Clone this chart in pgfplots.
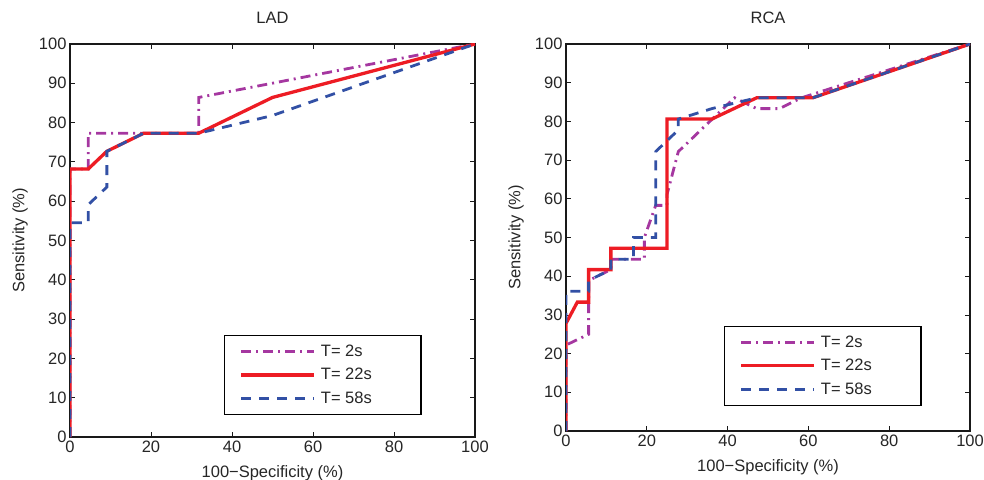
\documentclass[border=0pt]{standalone}
\usepackage{fontspec}
\setmainfont{Liberation Sans}
\usepackage{pgfplots}
\pgfplotsset{compat=1.18}
\definecolor{cpurple}{RGB}{165,55,160}
\definecolor{cred}{RGB}{237,28,36}
\definecolor{cblue}{RGB}{50,80,165}
\newcommand{\fs}{\fontsize{16.5}{19}\selectfont}
\pgfplotsset{
  myaxis/.style={
    scale only axis, xmin=0, xmax=100, ymin=0, ymax=100,
    xtick={0,20,...,100}, ytick={0,10,...,100},
    tick align=inside, major tick length=5pt,
    axis line style={line width=1.1pt, black!90},
    every tick/.style={black!90, line width=0.8pt},
    tick label style={font=\fs, text=black!85},
    /pgf/number format/assume math mode=true,
    xlabel={100−Specificity (\%)}, ylabel={Sensitivity (\%)},
    every axis x label/.style={at={([yshift=-36pt]rel axis cs:0.5,0)}, anchor=center, font=\fs, text=black!85},
    every axis y label/.style={at={([xshift=-50pt]rel axis cs:0,0.5)}, anchor=center, rotate=90, font=\fs, text=black!85},
    every axis title/.style={at={([yshift=26pt]rel axis cs:0.5,1)}, anchor=center, font=\fs, text=black!85},
    legend cell align=left,
    legend style={draw=black, line width=1.2pt, fill=white, font=\fs, text=black!85,
      inner xsep=15pt, inner ysep=7.5pt, row sep=6.5pt},
    legend image code/.code={\draw[#1] (0pt,0pt) -- (73pt,0pt);},
  },
  p2/.style={cpurple, line width=2.8pt, dash pattern=on 10pt off 5pt on 2pt off 5pt},
  p22/.style={cred, line width=3.3pt, solid},
  p58/.style={cblue, line width=2.8pt, dash pattern=on 10pt off 8pt},
}
\newcommand{\legtext}[1]{\makebox[86pt][l]{\hspace*{3pt}#1}}
\begin{document}
\begin{tikzpicture}
\begin{axis}[myaxis, at={(70pt,42pt)}, anchor=south west, width=405pt, height=393pt,
  title={LAD}, legend style={at={(0.868,0.056)}, anchor=south east}]
\addplot[p2] coordinates {(0,0) (0,68.2) (4.5,68.2) (4.5,77.3) (31.8,77.3) (31.8,86.4) (100,100)};
\addlegendentry{\legtext{T= 2s}}
\addplot[p22] coordinates {(0,0) (0,68.2) (4.5,68.2) (9.1,72.7) (18.2,77.3) (31.8,77.3) (50,86.4) (100,100)};
\addlegendentry{\legtext{T= 22s}}
\addplot[p58] coordinates {(0,0) (0,54.5) (4.5,54.5) (4.5,59.1) (9.1,63.6) (9.1,72.7) (18.2,77.3) (31.8,77.3) (50,81.8) (100,100)};
\addlegendentry{\legtext{T= 58s}}
\end{axis}
\begin{axis}[myaxis, at={(566pt,48pt)}, anchor=south west, width=404pt, height=387pt,
  title={RCA}, legend style={at={(0.88,0.065)}, anchor=south east}]
\addplot[p2] coordinates {(0,0) (0,22.2) (5.6,25) (5.6,38.9) (11.1,41.7) (11.1,44.4) (19.4,44.4) (19.4,50) (22.2,58.3) (25,58.3) (25,61.1) (27.8,72.2) (30.6,75) (41.7,86.1) (47.2,83.3) (52.8,83.3) (58.3,86.1) (100,100)};
\addlegendentry{\legtext{T= 2s}}
\addplot[p22] coordinates {(0,0) (0,27.8) (2.8,33.3) (5.6,33.3) (5.6,41.7) (11.1,41.7) (11.1,47.2) (25,47.2) (25,80.6) (36.1,80.6) (47.2,86.1) (61.1,86.1) (100,100)};
\addlegendentry{\legtext{T= 22s}}
\addplot[p58] coordinates {(0,0) (0,36.1) (5.6,36.1) (5.6,38.9) (11.1,41.7) (11.1,44.4) (16.7,44.4) (16.7,50) (22.2,50) (22.2,72.2) (25,75) (27.8,77.8) (27.8,80.6) (36.1,83.3) (47.2,86.1) (61.1,86.1) (100,100)};
\addlegendentry{\legtext{T= 58s}}
\end{axis}
\pgfresetboundingbox
\path[use as bounding box] (0pt,0pt) rectangle (984pt,479pt);
\end{tikzpicture}
\end{document}
